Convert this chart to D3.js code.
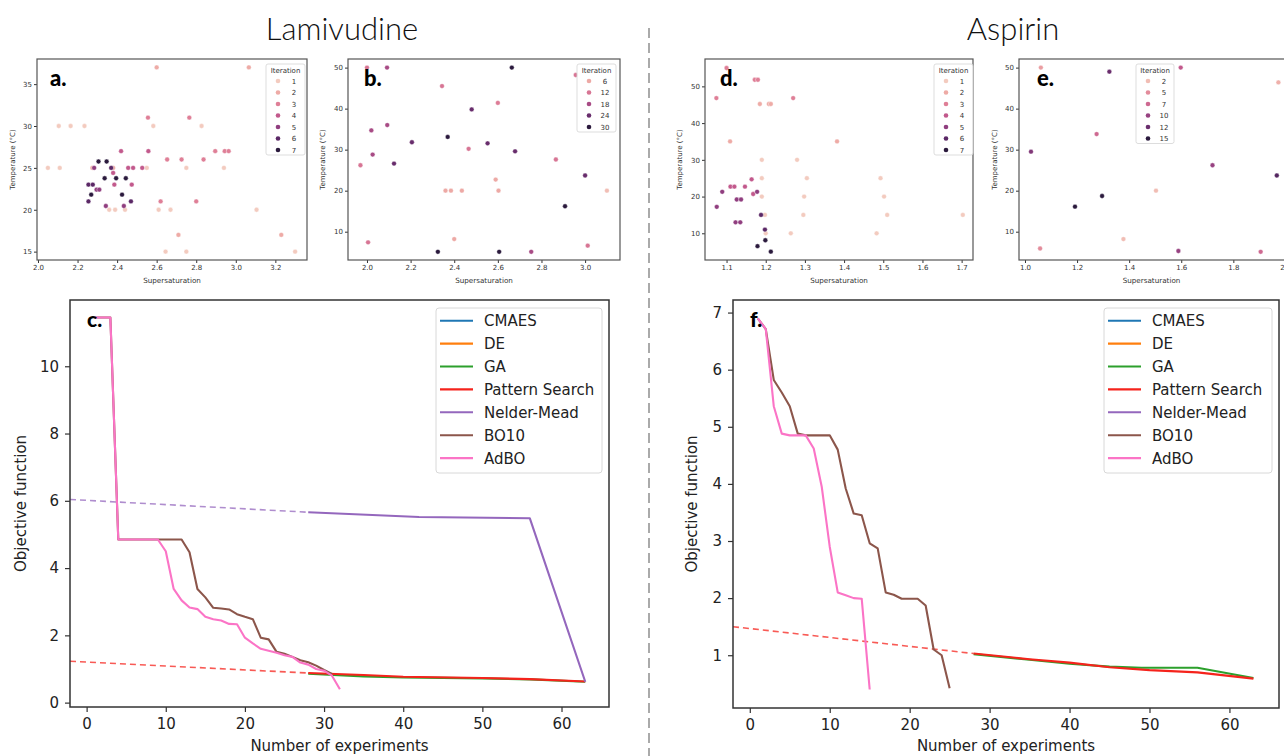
<!DOCTYPE html>
<html>
<head>
<meta charset="utf-8">
<script src="https://cdn.jsdelivr.net/npm/d3@7"></script>
<style>
  html, body { margin: 0; padding: 0; background: #fff; }
  svg { display: block; }
</style>
</head>
<body>
<svg id="fig" width="1284" height="756"></svg>
<script>
// ---------- scatter data (supersaturation, temperature, iteration) ----------
const aSuper = [2.05, 2.11, 2.105, 2.165, 2.235, 2.583, 2.827, 2.55, 2.75, 2.94, 2.36, 2.39, 2.44, 2.61, 2.67, 3.105, 2.645, 2.75, 3.30,
                2.60, 3.066, 2.71, 3.23, 2.275, 2.38,
                2.556, 2.765, 2.653, 2.726, 2.837, 2.896, 2.944, 2.964, 2.62, 2.80,
                2.42, 2.558, 2.456, 2.481, 2.527, 2.386, 2.474, 2.38,
                2.284, 2.296, 2.31, 2.343, 2.434,
                2.37, 2.255, 2.277, 2.255, 2.47,
                2.306, 2.347, 2.337, 2.395, 2.444, 2.269, 2.425];
const aTemp  = [25, 25, 30, 30, 30, 30, 30, 25, 25, 25, 20, 20, 20, 20, 20, 20, 15, 15, 15,
                37, 37, 17, 17, 25, 25,
                31, 31, 26, 26, 26, 27, 27, 27, 21, 21,
                27, 27, 25, 25, 25, 23, 23, 24.4,
                25, 22.4, 22.4, 20.45, 20.45,
                25, 23, 23, 21, 21,
                25.76, 25.76, 23.76, 23.76, 23.76, 21.8, 21.8];
const aIter  = [1, 1, 1, 1, 1, 1, 1, 1, 1, 1, 1, 1, 1, 1, 1, 1, 1, 1, 1,
                2, 2, 2, 2, 2, 2,
                3, 3, 3, 3, 3, 3, 3, 3, 3, 3,
                4, 4, 4, 4, 4, 4, 4, 4,
                5, 5, 5, 5, 5,
                6, 6, 6, 6, 6,
                7, 7, 7, 7, 7, 7, 7];

const bSuper = [2.36, 2.385, 2.435, 2.603, 3.10, 2.59, 2.40,
                2.0, 2.957, 2.344, 2.60, 2.466, 2.866, 1.97, 2.005, 3.012,
                2.092, 2.093, 2.02, 2.026, 2.753,
                2.48, 2.206, 2.553, 2.679, 2.124, 3.0,
                2.664, 2.37, 2.908, 2.325, 2.606];
const bTemp  = [20, 20, 20, 20, 20, 22.7, 8.2,
                50, 48.2, 45.5, 41.4, 30.2, 27.6, 26.2, 7.4, 6.6,
                50, 36, 34.7, 28.8, 5.1,
                39.8, 31.8, 31.55, 29.6, 26.6, 23.7,
                50, 33.1, 16.2, 5.1, 5.1];
const bIter  = [6, 6, 6, 6, 3, 6, 6,
                12, 12, 12, 11, 12, 12, 12, 12, 12,
                18, 18, 18, 18, 18,
                24, 24, 24, 24, 24, 24,
                30, 30, 30, 30, 30];

const dSuper = [1.19, 1.28, 1.19, 1.305, 1.493, 1.19, 1.298, 1.502, 1.198, 1.296, 1.51, 1.703, 1.20, 1.264, 1.483,
                1.185, 1.208, 1.213, 1.109, 1.382,
                1.10, 1.172, 1.18, 1.074, 1.27,
                1.164, 1.147, 1.11, 1.12, 1.168,
                1.089, 1.178, 1.126, 1.137, 1.075, 1.123, 1.135,
                1.188, 1.198,
                1.199, 1.179, 1.213];
const dTemp  = [30, 30, 25, 25, 25, 20, 20, 20, 15, 15, 15, 15, 10, 10, 10,
                45.2, 45.2, 45.2, 35, 35,
                55, 51.8, 51.8, 46.8, 46.8,
                24.7, 22.7, 22.7, 22.7, 20.7,
                21.3, 21.3, 19.2, 19.2, 17.2, 13, 13,
                15, 11,
                8.1, 6.5, 5];
const dIter  = [1, 1, 1, 1, 1, 1, 1, 1, 1, 1, 1, 1, 1, 1, 1,
                2, 2, 2, 2, 2,
                3, 3, 3, 3, 3,
                4, 4, 4, 4, 4,
                5, 5, 5, 5, 5, 5, 5,
                6, 6,
                7, 7, 7];

const eSuper = [1.503, 1.378, 1.973, 1.061, 1.058, 1.275, 1.905, 1.598, 1.72, 1.589, 1.023, 1.324, 1.967, 1.296, 1.192];
const eTemp  = [20, 8.2, 46.4, 50, 5.9, 33.8, 5.1, 50, 26.2, 5.3, 29.5, 49, 23.7, 18.7, 16.1];
const eIter  = [2, 2, 3, 4, 5, 7, 7, 8, 10, 10, 11, 12, 13, 15, 15];

const legendIterA = [1, 2, 3, 4, 5, 6, 7];
const legendIterB = [6, 12, 18, 24, 30];
const legendIterD = [1, 2, 3, 4, 5, 6, 7];
const legendIterE = [2, 5, 7, 10, 12, 15];

// ---------- convergence data (number of experiments, objective function) ----------
const algoNames = ['CMAES', 'DE', 'GA', 'Pattern Search', 'Nelder-Mead', 'BO10', 'AdBO'];

const cAdboX = [1, 3, 4, 9, 10, 11, 12, 13, 14, 15, 16, 17, 18, 19, 20, 21, 22, 23, 24, 25, 26, 27, 28, 29, 30, 31, 32];
const cAdboY = [11.45, 11.45, 4.85, 4.85, 4.5, 3.38, 3.04, 2.83, 2.78, 2.55, 2.48, 2.44, 2.34, 2.33, 1.93, 1.76, 1.6, 1.54, 1.48, 1.41, 1.36, 1.19, 1.13, 1.0, 0.95, 0.8, 0.4];
const cBoX   = [1, 3, 4, 9, 12, 13, 14, 15, 16, 17, 18, 19, 20, 21, 22, 23, 24, 25, 26, 27, 28, 29, 30, 31];
const cBoY   = [11.45, 11.45, 4.85, 4.85, 4.85, 4.47, 3.38, 3.13, 2.82, 2.8, 2.77, 2.63, 2.55, 2.48, 1.93, 1.88, 1.51, 1.45, 1.36, 1.26, 1.2, 1.1, 0.97, 0.85];
const cNmX   = [28, 42, 56, 63];
const cNmY   = [5.66, 5.52, 5.48, 0.62];
const cNmDashX = [-2.1, 28];
const cNmDashY = [6.04, 5.66];
const cPsX   = [28, 35, 40, 50, 56, 63];
const cPsY   = [0.88, 0.82, 0.77, 0.73, 0.70, 0.63];
const cPsDashX = [-2.1, 28];
const cPsDashY = [1.23, 0.88];
const cGaX   = [28, 35, 40, 50, 56, 63];
const cGaY   = [0.86, 0.78, 0.75, 0.72, 0.69, 0.62];

const fAdboX = [1, 2, 3, 4, 5, 6, 7, 8, 9, 10, 11, 12, 13, 14, 15];
const fAdboY = [6.9, 6.71, 5.36, 4.88, 4.85, 4.85, 4.85, 4.62, 3.95, 2.9, 2.1, 2.05, 2.0, 1.99, 0.4];
const fBoX   = [1, 2, 3, 4, 5, 6, 7, 8, 9, 10, 11, 12, 13, 14, 15, 16, 17, 18, 19, 20, 21, 22, 23, 24, 25];
const fBoY   = [6.9, 6.71, 5.82, 5.6, 5.36, 4.88, 4.85, 4.85, 4.85, 4.85, 4.6, 3.92, 3.48, 3.45, 2.96, 2.87, 2.1, 2.06, 1.99, 1.99, 1.99, 1.87, 1.1, 1.0, 0.42];
const fPsX   = [28, 35, 40, 45, 50, 56, 63];
const fPsY   = [1.03, 0.93, 0.87, 0.79, 0.74, 0.70, 0.59];
const fPsDashX = [-2.1, 28];
const fPsDashY = [1.5, 1.03];
const fGaX   = [28, 35, 40, 45, 49, 56, 63];
const fGaY   = [1.02, 0.92, 0.85, 0.80, 0.78, 0.78, 0.60];

const expTicks = [0, 10, 20, 30, 40, 50, 60];

// ---------- styles ----------
const iterColors = ['#f3cbbf', '#eeaba6', '#df7f97', '#c2598c', '#903e7f', '#5b2866', '#2b1a3d'];
const iterCmap   = d3.piecewise(d3.interpolateRgb, iterColors);
const algoColors = ['#1f77b4', '#ff7f0e', '#2ca02c', '#f5231c', '#9467bd', '#8c564b', '#fb74c6'];
const FONT = 'DejaVu Sans, sans-serif';

const svg = d3.select('#fig');

// titles + divider
svg.append('text').attr('x', 342).attr('y', 40).attr('text-anchor', 'middle')
    .attr('font-family', 'Lato, sans-serif').attr('font-size', 31).attr('font-weight', 300)
    .attr('fill', '#111').text('Lamivudine');
svg.append('text').attr('x', 1013).attr('y', 40).attr('text-anchor', 'middle')
    .attr('font-family', 'Lato, sans-serif').attr('font-size', 31).attr('font-weight', 300)
    .attr('fill', '#111').text('Aspirin');
svg.append('line').attr('x1', 649).attr('x2', 649).attr('y1', 28).attr('y2', 756)
    .attr('stroke', '#aaa').attr('stroke-width', 2).attr('stroke-dasharray', '10,5');

function styleAxis(a, size, col) {
    a.select('.domain').remove();
    a.selectAll('text').attr('font-size', size).attr('fill', col).attr('font-family', FONT);
    a.selectAll('line').attr('stroke', '#333');
}

function scatterPanel(p) {
    var x = d3.scaleLinear().domain(p.xDomain).range([p.x0, p.x1]);
    var y = d3.scaleLinear().domain(p.yDomain).range([p.y1, p.y0]);
    var color = function (v) { return iterCmap((v - p.cMin) / (p.cMax - p.cMin)); };
    var g = svg.append('g');

    var xa = g.append('g').attr('transform', 'translate(0,' + p.y1 + ')')
        .call(d3.axisBottom(x).tickValues(p.xTicks).tickFormat(d3.format('.1f')).tickSize(3).tickPadding(2));
    var ya = g.append('g').attr('transform', 'translate(' + p.x0 + ',0)')
        .call(d3.axisLeft(y).tickValues(p.yTicks).tickFormat(d3.format('d')).tickSize(3).tickPadding(2));
    styleAxis(xa, 7, '#333');
    styleAxis(ya, 7, '#333');

    g.append('text').attr('x', (p.x0 + Math.min(p.x1, 1284)) / 2 + (p.x1 > 1284 ? 0 : 0)).attr('y', p.y1 + 23)
        .attr('text-anchor', 'middle').attr('font-family', FONT).attr('font-size', 7.2).attr('fill', '#333')
        .text('Supersaturation');
    g.append('text').attr('transform', 'translate(' + p.yLabelX + ',' + (p.y0 + p.y1) / 2 + ') rotate(-90)')
        .attr('text-anchor', 'middle').attr('font-family', FONT).attr('font-size', 7).attr('fill', '#333')
        .text('Temperature (°C)');

    g.append('g').selectAll('circle').data(d3.range(p.sx.length)).join('circle')
        .attr('cx', function (i) { return x(p.sx[i]); })
        .attr('cy', function (i) { return y(p.ty[i]); })
        .attr('r', 2.4)
        .attr('fill', function (i) { return color(p.it[i]); })
        .attr('stroke', '#fff').attr('stroke-width', 0.4);

    g.append('rect').attr('x', p.x0).attr('y', p.y0).attr('width', p.x1 - p.x0).attr('height', p.y1 - p.y0)
        .attr('fill', 'none').attr('stroke', '#555').attr('stroke-width', 1.2);

    g.append('text').attr('x', p.letterX).attr('y', 86)
        .attr('font-family', 'Lato, sans-serif').attr('font-weight', 900).attr('font-size', 22)
        .attr('fill', '#000').text(p.letter);

    // legend
    var n = p.legend.length;
    var lg = g.append('g');
    lg.append('rect').attr('x', p.lx).attr('y', 64).attr('width', p.lw).attr('height', 22 + (n - 1) * 11.5)
        .attr('rx', 2).attr('fill', '#fff').attr('fill-opacity', 0.85).attr('stroke', '#d4d4d4').attr('stroke-width', 0.8);
    lg.append('text').attr('x', p.lx + p.lw / 2).attr('y', 72.5).attr('text-anchor', 'middle')
        .attr('font-family', FONT).attr('font-size', 7).attr('fill', '#333').text('Iteration');
    var rows = lg.selectAll('g.row').data(p.legend).join('g')
        .attr('transform', function (d, i) { return 'translate(' + p.lx + ',' + (81 + i * 11.5) + ')'; });
    rows.append('circle').attr('cx', 12).attr('cy', 0).attr('r', 2.3).attr('fill', color);
    rows.append('text').attr('x', 28).attr('y', 2.5).attr('text-anchor', 'middle')
        .attr('font-family', FONT).attr('font-size', 7).attr('fill', '#333').text(function (d) { return d; });
}

function linePanel(p) {
    var x = d3.scaleLinear().domain(p.xDomain).range([p.x0, p.x1]);
    var y = d3.scaleLinear().domain(p.yDomain).range([p.y1, p.y0]);
    var g = svg.append('g');

    var xa = g.append('g').attr('transform', 'translate(0,' + p.y1 + ')')
        .call(d3.axisBottom(x).tickValues(expTicks).tickFormat(d3.format('d')).tickSize(5).tickPadding(6));
    var ya = g.append('g').attr('transform', 'translate(' + p.x0 + ',0)')
        .call(d3.axisLeft(y).tickValues(p.yTicks).tickFormat(d3.format('d')).tickSize(5).tickPadding(6));
    styleAxis(xa, 15, '#222');
    styleAxis(ya, 15, '#222');
    xa.selectAll('line').attr('stroke-width', 1.2);
    ya.selectAll('line').attr('stroke-width', 1.2);

    g.append('text').attr('x', (p.x0 + p.x1) / 2).attr('y', 751).attr('text-anchor', 'middle')
        .attr('font-family', FONT).attr('font-size', 15).attr('fill', '#222').text('Number of experiments');
    g.append('text').attr('transform', 'translate(' + p.yLabelX + ',' + (p.y0 + p.y1) / 2 + ') rotate(-90)')
        .attr('text-anchor', 'middle').attr('font-family', FONT).attr('font-size', 15).attr('fill', '#222')
        .text('Objective function');

    var clipId = 'clip' + p.id;
    g.append('clipPath').attr('id', clipId).append('rect')
        .attr('x', p.x0).attr('y', p.y0).attr('width', p.x1 - p.x0).attr('height', p.y1 - p.y0);
    var plot = g.append('g').attr('clip-path', 'url(#' + clipId + ')');

    p.series.forEach(function (s) {
        var line = d3.line().x(function (i) { return x(s.x[i]); }).y(function (i) { return y(s.y[i]); });
        plot.append('path').datum(d3.range(s.x.length)).attr('d', line)
            .attr('fill', 'none').attr('stroke', algoColors[s.algo])
            .attr('stroke-width', s.dash ? 1.6 : 2.1)
            .attr('stroke-opacity', s.dash ? 0.75 : 1)
            .attr('stroke-dasharray', s.dash ? '6,4' : null)
            .attr('stroke-linejoin', 'round');
    });

    g.append('rect').attr('x', p.x0).attr('y', p.y0).attr('width', p.x1 - p.x0).attr('height', p.y1 - p.y0)
        .attr('fill', 'none').attr('stroke', '#333').attr('stroke-width', 1.5);

    g.append('text').attr('x', p.letterX).attr('y', 327)
        .attr('font-family', 'Lato, sans-serif').attr('font-weight', 900).attr('font-size', 21)
        .attr('fill', '#000').text(p.letter);

    // legend
    var lg = g.append('g');
    lg.append('rect').attr('x', p.lx).attr('y', 308).attr('width', p.lw).attr('height', 165)
        .attr('rx', 3).attr('fill', '#fff').attr('fill-opacity', 0.85).attr('stroke', '#d8d8d8').attr('stroke-width', 1);
    var rows = lg.selectAll('g.row').data(algoNames).join('g')
        .attr('transform', function (d, i) { return 'translate(' + p.lx + ',' + (320.7 + i * 22.9) + ')'; });
    rows.append('line').attr('x1', 4).attr('x2', 37).attr('y1', 0).attr('y2', 0)
        .attr('stroke', function (d, i) { return algoColors[i]; }).attr('stroke-width', 2.1);
    rows.append('text').attr('x', 48).attr('y', 5.5).attr('font-family', FONT).attr('font-size', 15)
        .attr('fill', '#222').text(function (d) { return d; });
}

scatterPanel({ x0: 37, x1: 307, y0: 59, y1: 260, xDomain: [1.995, 3.36], yDomain: [14, 38],
    xTicks: [2.0, 2.2, 2.4, 2.6, 2.8, 3.0, 3.2], yTicks: [15, 20, 25, 30, 35],
    sx: aSuper, ty: aTemp, it: aIter, cMin: 1, cMax: 7, legend: legendIterA,
    lx: 266, lw: 39, letter: 'a.', letterX: 50, yLabelX: 15 });
scatterPanel({ x0: 348, x1: 620, y0: 59, y1: 260, xDomain: [1.913, 3.16], yDomain: [3.1, 52.1],
    xTicks: [2.0, 2.2, 2.4, 2.6, 2.8, 3.0], yTicks: [10, 20, 30, 40, 50],
    sx: bSuper, ty: bTemp, it: bIter, cMin: 1, cMax: 30, legend: legendIterB,
    lx: 577, lw: 39, letter: 'b.', letterX: 364, yLabelX: 325 });
scatterPanel({ x0: 705, x1: 973, y0: 59, y1: 260, xDomain: [1.045, 1.729], yDomain: [2.73, 57.45],
    xTicks: [1.1, 1.2, 1.3, 1.4, 1.5, 1.6, 1.7], yTicks: [10, 20, 30, 40, 50],
    sx: dSuper, ty: dTemp, it: dIter, cMin: 1, cMax: 7, legend: legendIterD,
    lx: 934, lw: 39, letter: 'd.', letterX: 720, yLabelX: 682 });
scatterPanel({ x0: 1019, x1: 1300, y0: 59, y1: 260, xDomain: [0.977, 2.056], yDomain: [3.1, 52.1],
    xTicks: [1.0, 1.2, 1.4, 1.6, 1.8, 2.0], yTicks: [10, 20, 30, 40, 50],
    sx: eSuper, ty: eTemp, it: eIter, cMin: 1, cMax: 15, legend: legendIterE,
    lx: 1136, lw: 38, letter: 'e.', letterX: 1037, yLabelX: 997 });

linePanel({ id: 'c', x0: 70, x1: 609, y0: 300, y1: 707, xDomain: [-2.1, 66.0], yDomain: [-0.13, 11.97],
    yTicks: [0, 2, 4, 6, 8, 10], letter: 'c.', letterX: 87, yLabelX: 26, lx: 436, lw: 166,
    series: [
        { algo: 2, x: cGaX, y: cGaY },
        { algo: 3, x: cPsDashX, y: cPsDashY, dash: true },
        { algo: 3, x: cPsX, y: cPsY },
        { algo: 4, x: cNmDashX, y: cNmDashY, dash: true },
        { algo: 4, x: cNmX, y: cNmY },
        { algo: 5, x: cBoX, y: cBoY },
        { algo: 6, x: cAdboX, y: cAdboY }
    ] });
linePanel({ id: 'f', x0: 733, x1: 1279, y0: 300, y1: 708, xDomain: [-2.1, 66.2], yDomain: [0.076, 7.22],
    yTicks: [1, 2, 3, 4, 5, 6, 7], letter: 'f.', letterX: 750, yLabelX: 697, lx: 1104, lw: 168,
    series: [
        { algo: 2, x: fGaX, y: fGaY },
        { algo: 3, x: fPsDashX, y: fPsDashY, dash: true },
        { algo: 3, x: fPsX, y: fPsY },
        { algo: 5, x: fBoX, y: fBoY },
        { algo: 6, x: fAdboX, y: fAdboY }
    ] });
</script>
</body>
</html>
